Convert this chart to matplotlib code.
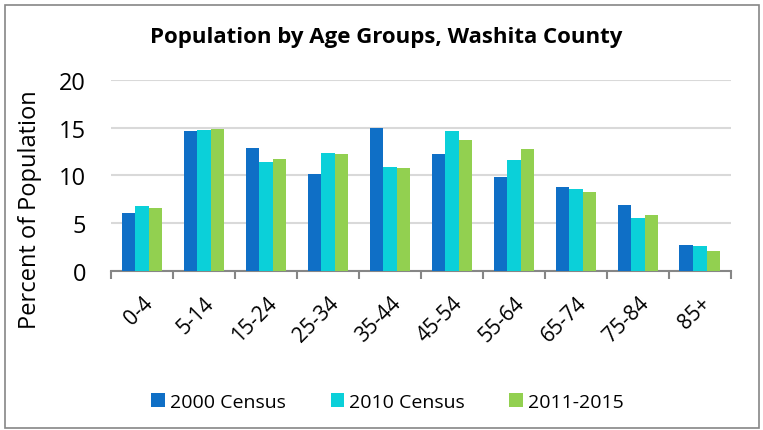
import numpy as np
import matplotlib.pyplot as plt
from matplotlib.patches import Rectangle

# data
age_groups = ['0-4', '5-14', '15-24', '25-34', '35-44', '45-54', '55-64', '65-74', '75-84', '85+']
census_2000 = [6.1, 14.6, 12.9, 10.2, 15.0, 12.2, 9.8, 8.8, 6.9, 2.7]
census_2010 = [6.8, 14.7, 11.4, 12.3, 10.9, 14.6, 11.6, 8.6, 5.6, 2.6]
acs_2011_2015 = [6.6, 14.9, 11.7, 12.2, 10.8, 13.7, 12.8, 8.3, 5.9, 2.1]
series_names = ['2000 Census', '2010 Census', '2011-2015']
colors = ['#0F6FC6', '#0BD0D9', '#92D050']

plt.rcParams['font.family'] = ['Open Sans', 'DejaVu Sans']

fig = plt.figure(figsize=(7.63, 4.31), dpi=100)
ax = fig.add_axes([0.1455, 0.368, 0.8125, 0.445])

x = np.arange(len(age_groups))
width = 0.22
for i, (vals, name, c) in enumerate(zip([census_2000, census_2010, acs_2011_2015], series_names, colors)):
    ax.bar(x + (i - 1) * width, vals, width, color=c, label=name, zorder=3)

ax.set_xlim(-0.5, len(age_groups) - 0.5)
ax.set_ylim(0, 20)
ax.set_yticks([0, 5, 10, 15, 20])
ax.grid(axis='y', color='#D9D9D9', linewidth=1.5, zorder=0)
for s in ['top', 'right', 'left']:
    ax.spines[s].set_visible(False)
ax.spines['bottom'].set_color('#868686')
ax.spines['bottom'].set_linewidth(1.5)

# ticks between categories, labels centred
ax.set_xticks(np.arange(-0.5, len(age_groups)), minor=False)
ax.set_xticklabels([])
ax.set_xticks(x, minor=True)
ax.set_xticklabels(age_groups, minor=True, rotation=45, ha='right', rotation_mode='anchor', fontsize=15)
ax.tick_params(axis='x', which='major', length=6, width=1.5, color='#868686')
ax.tick_params(axis='x', which='minor', length=0, pad=15)
ax.tick_params(axis='y', length=0, labelsize=17, pad=18)

ax.set_ylabel('Percent of Population', fontsize=17)
ax.yaxis.set_label_coords(-0.112, 0.325)
fig.text(0.506, 0.912, 'Population by Age Groups, Washita County', ha='center', va='center',
         fontsize=16, fontweight='bold')

fig.legend(loc='center', bbox_to_anchor=(0.508, 0.066), ncol=3, frameon=False, fontsize=14,
           handlelength=0.7, handleheight=0.7, handletextpad=0.25, columnspacing=2.3)

fig.patches.append(Rectangle((0.007, 0.005), 0.988, 0.982, transform=fig.transFigure,
                             fill=False, edgecolor='#868686', linewidth=1.2))

fig.savefig('out.png', dpi=100)
